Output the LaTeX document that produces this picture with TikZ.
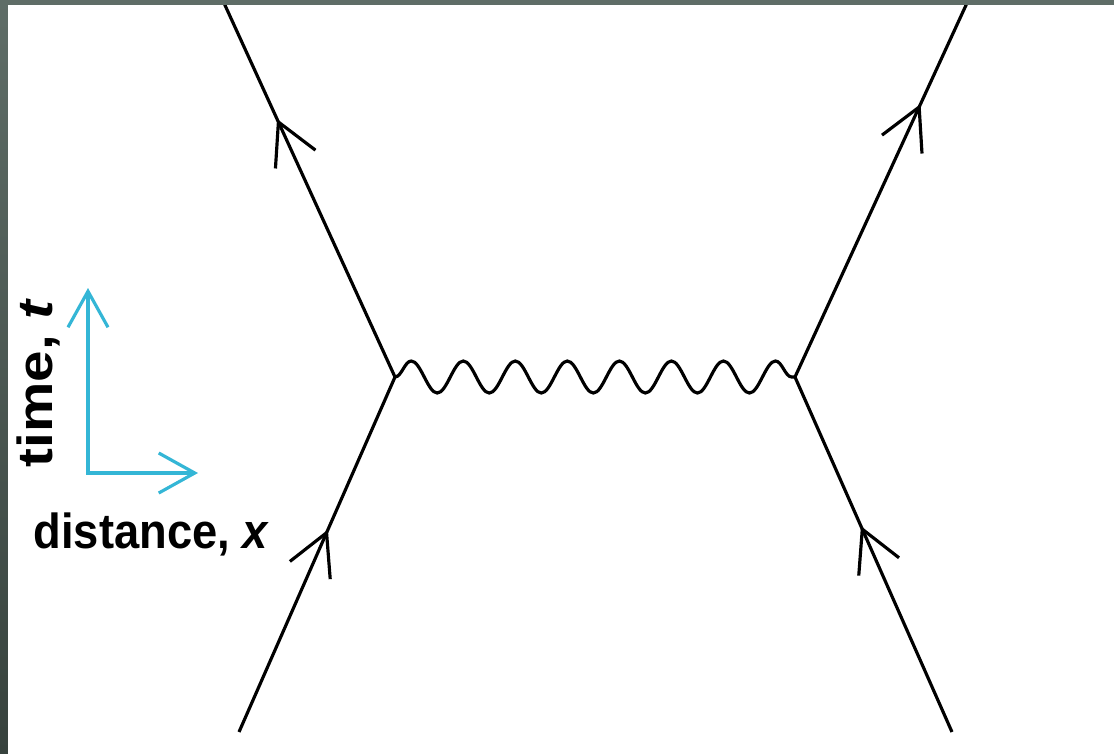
\documentclass[tikz,border=0pt]{standalone}
\usepackage{fontspec}
\newfontfamily\labelfont{Liberation Sans}
\usetikzlibrary{arrows.meta, decorations.pathmorphing, decorations.markings}
\definecolor{axiscyan}{RGB}{52,182,214}
\definecolor{frametop}{RGB}{95,109,103}
\definecolor{framebot}{RGB}{55,66,61}

\begin{document}
\begin{tikzpicture}[
    x=0.01cm, y=-0.01cm,
    fermion/.style={line width=0.9pt, postaction={decorate},
        decoration={markings, mark=at position #1 with
          {\arrow{Straight Barb[length=4.1mm, width=4.4mm]}}}},
    photon/.style={line width=0.9pt, decorate,
        decoration={snake, amplitude=1.6mm, segment length=5.2mm}},
    axisarr/.style={draw=axiscyan, line width=0.9pt,
        {Straight Barb[length=3.6mm, width=4mm]}-{Straight Barb[length=3.6mm, width=4mm]}},
    axislabel/.style={font=\labelfont\bfseries\fontsize{14}{16}\selectfont, inner sep=0pt}]
  \useasboundingbox (0,0) rectangle (1114,753);
  \fill[white] (0,0) rectangle (1114,753);

  % vertices and free ends
  \coordinate (vl)   at (395,377);
  \coordinate (vr)   at (795,377);
  \coordinate (inl)  at (239,732);
  \coordinate (inr)  at (952,732);
  \coordinate (outl) at (224,3);
  \coordinate (outr) at (967,3);

  \draw[fermion=0.57] (inl) -- (vl);
  \draw[fermion=0.58] (inr) -- (vr);
  \draw[fermion=0.69] (vl) -- (outl);
  \draw[fermion=0.73] (vr) -- (outr);
  \draw[photon] (vl) -- (vr);

  % axes
  \coordinate (origin) at (88,473);
  \coordinate (tend)   at (88,288);
  \coordinate (xend)   at (198,473);
  \draw[axisarr] (tend) -- (origin) -- (xend);
  \node[axislabel, rotate=90, anchor=base west] (tlabel) at (53,468)
    {\scalebox{1.15}[1]{time, {\itshape t}}};
  \node[axislabel, anchor=base west] (xlabel) at (33,548)
    {\scalebox{0.92}[1]{distance, {\itshape x}}};

  % frame
  \fill[frametop] (0,0) rectangle (1114,5);
  \shade[top color=frametop, bottom color=framebot] (0,0) rectangle (8,753);
\end{tikzpicture}
\end{document}
